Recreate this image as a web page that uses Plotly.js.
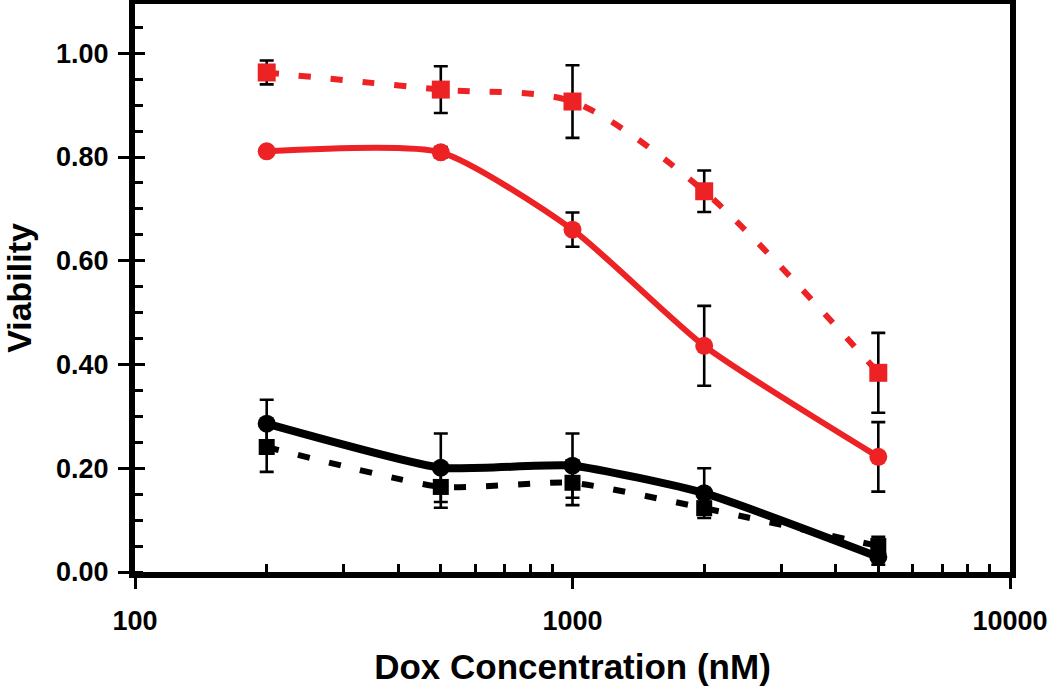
<!DOCTYPE html>
<html>
<head>
<meta charset="utf-8">
<script src="https://cdn.plot.ly/plotly-3.0.1.min.js"></script>
<style>html,body{margin:0;padding:0;background:#fff;}#chart{width:1050px;height:686px;}</style>
</head>
<body>
<div id="chart"></div>
<script>
// Data
const conc = [200, 500, 1000, 2000, 5000];
const redSquare = [0.963, 0.930, 0.907, 0.734, 0.384];
const redSquareErr = [0.023, 0.045, 0.070, 0.040, 0.077];
const redCircle = [0.811, 0.809, 0.660, 0.436, 0.222];
const redCircleErr = [0.005, 0.010, 0.033, 0.077, 0.067];
const blackCircle = [0.286, 0.201, 0.205, 0.152, 0.029];
const blackCircleErr = [0.046, 0.066, 0.062, 0.048, 0.015];
const blackSquare = [0.241, 0.164, 0.172, 0.123, 0.050];
const blackSquareErr = [0.048, 0.040, 0.043, 0.012, 0.018];
const xMajorTicks = [100, 1000, 10000];
const xMinorTicks = [200,300,400,500,600,700,800,900,2000,3000,4000,5000,6000,7000,8000,9000];
const yTicks = [0, 0.2, 0.4, 0.6, 0.8, 1.0];
const yTickText = ['0.00','0.20','0.40','0.60','0.80','1.00'];

const RED = 'rgb(237,34,36)';
const FONT = 'Arial, "Liberation Sans", sans-serif';

function errCfg(arr){
  return {type:'data', array:arr, visible:true, color:'#000', thickness:2.6, width:7};
}

const traces = [
  {x:conc, y:redSquare, mode:'lines+markers', error_y:errCfg(redSquareErr),
   line:{color:RED, width:6, dash:'12px,20px', shape:'spline', smoothing:0.8},
   marker:{symbol:'square', size:18, color:RED}},
  {x:conc, y:redCircle, mode:'lines+markers', error_y:errCfg(redCircleErr),
   line:{color:RED, width:6, shape:'spline', smoothing:0.6},
   marker:{symbol:'circle', size:18, color:RED}},
  {x:conc, y:blackSquare, mode:'lines+markers', error_y:errCfg(blackSquareErr),
   line:{color:'#000', width:6, dash:'12px,20px', shape:'spline', smoothing:0.5},
   marker:{symbol:'square', size:16, color:'#000'}},
  {x:conc, y:blackCircle, mode:'lines+markers', error_y:errCfg(blackCircleErr),
   line:{color:'#000', width:8, shape:'spline', smoothing:0.5},
   marker:{symbol:'circle', size:18, color:'#000'}},
  {x:[], y:[], xaxis:'x2', yaxis:'y2', showlegend:false, hoverinfo:'skip'}
];

const layout = {
  width:1050, height:686,
  margin:{l:135, r:40, t:4, b:114},
  paper_bgcolor:'#fff', plot_bgcolor:'#fff',
  showlegend:false,
  font:{family:FONT, color:'#000'},
  xaxis:{
    type:'log', range:[2,4],
    tickvals:xMajorTicks, ticktext:xMajorTicks.map(String),
    ticks:'outside', ticklen:11, tickwidth:3, tickcolor:'#000',
    showline:true, linewidth:6, linecolor:'#000', mirror:true,
    showgrid:false, zeroline:false,
    tickfont:{size:27, family:FONT, weight:'bold'},
    ticklabelstandoff:9,
    title:{text:'<b>Dox Concentration (nM)</b>', font:{size:35, family:FONT}, standoff:22}
  },
  yaxis:{
    range:[0,1.095],
    tickvals:yTicks, ticktext:yTickText,
    ticks:'outside', ticklen:11, tickwidth:3, tickcolor:'#000',
    minor:{dtick:0.05, ticks:'inside', ticklen:8, tickwidth:3, tickcolor:'#000', showgrid:false},
    showline:true, linewidth:6, linecolor:'#000', mirror:true,
    showgrid:false, zeroline:false,
    tickfont:{size:27, family:FONT, weight:'bold'},
    ticklabelstandoff:4,
    title:{text:'<b>Viability</b>', font:{size:34, family:FONT}, standoff:16}
  },
  xaxis2:{
    type:'log', range:[2,4], overlaying:'x', anchor:'y2', side:'bottom',
    tickvals:xMinorTicks, ticks:'inside', ticklen:8, tickwidth:3, tickcolor:'#000',
    showticklabels:false, showline:false, showgrid:false, zeroline:false
  },
  yaxis2:{
    range:[0,1.095], overlaying:'y', anchor:'x2', side:'left',
    tickvals:yTicks, ticks:'inside', ticklen:10, tickwidth:3, tickcolor:'#000',
    showticklabels:false, showline:false, showgrid:false, zeroline:false
  }
};

Plotly.newPlot('chart', traces, layout, {staticPlot:true, displayModeBar:false});
</script>
</body>
</html>
